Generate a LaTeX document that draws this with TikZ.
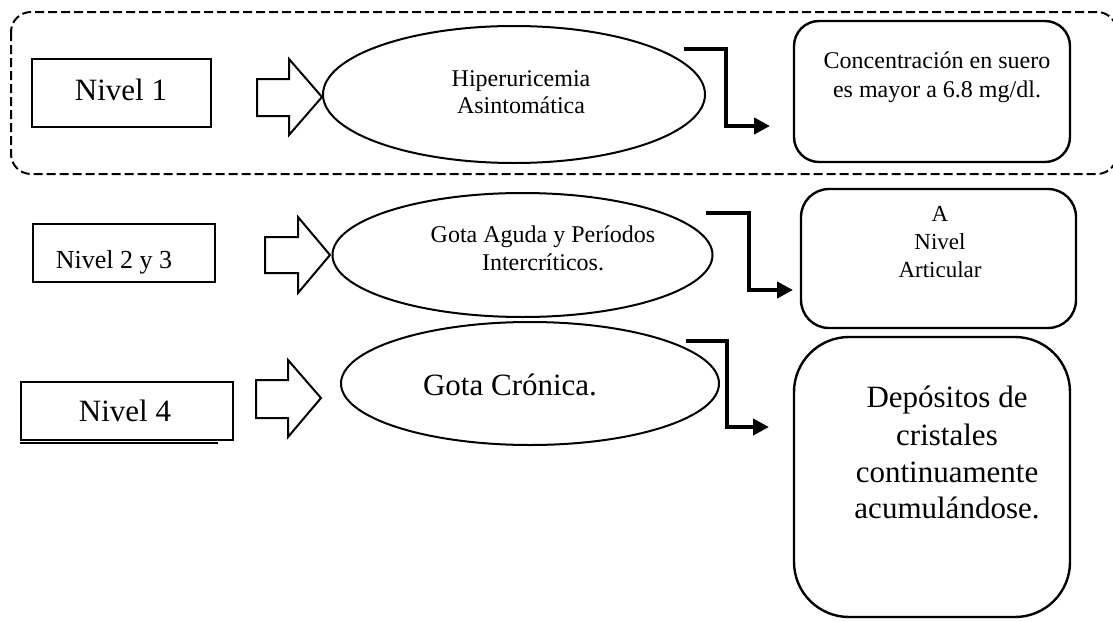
\documentclass[tikz,border=0pt]{standalone}
\usepackage{fontspec}
\setmainfont{Liberation Serif}
\usetikzlibrary{arrows.meta,shapes.geometric}
\begin{document}
\begin{tikzpicture}[x=1pt,y=-1pt,
  lbl/.style={inner sep=0pt, anchor=base},
  big/.style={font=\fontsize{31pt}{36pt}\selectfont},
  mid/.style={font=\fontsize{26pt}{30pt}\selectfont},
  sml/.style={font=\fontsize{24pt}{28pt}\selectfont},
  sml2/.style={font=\fontsize{23pt}{27pt}\selectfont},
  lvlbox/.style={draw, line width=2pt, inner sep=0pt},
  oval/.style={draw, ellipse, line width=2pt, inner sep=0pt},
  rbox/.style={draw, line width=2.4pt, inner sep=0pt},
  blockarrow/.style={draw, line width=2pt, line join=miter},
  elbow/.style={draw, line width=4pt, line join=miter, -{Triangle[length=16pt,width=16pt]}},
  frame/.style={draw, line width=2pt, dash pattern=on 9pt off 4pt, rounded corners=20pt}
]
\useasboundingbox (0,0) rectangle (1113,621);

% dashed frame around level 1 (right edge runs past the picture border)
\draw[frame] (11,12) rectangle (1117,174);

% level boxes
\node[lvlbox, minimum width=179pt, minimum height=68pt] (n1) at (121.5,93) {};
\node[lvlbox, minimum width=182pt, minimum height=58pt] (n2) at (124,253) {};
\node[lvlbox, minimum width=212pt, minimum height=58pt] (n4) at (127,411) {};
\draw[line width=2pt] ([yshift=-1.6pt]n4.south west) -- ++(198,0);

\node[lbl, big] (t1) at (121,100) {Nivel 1};
\node[lbl, mid] (t2) at (114,268) {Nivel 2 y 3};
\node[lbl, big] (t4) at (125,421) {Nivel 4};

% block arrows
\draw[blockarrow] (257,79) -- (289,79) -- (289,59) -- (322,97) -- (289,135) -- (289,116) -- (257,116) -- cycle;
\draw[blockarrow] (265,237) -- (298,237) -- (298,217) -- (330,255) -- (298,293) -- (298,273) -- (265,273) -- cycle;
\draw[blockarrow] (256,380) -- (288,380) -- (288,360) -- (321,398) -- (288,437) -- (288,418) -- (256,418) -- cycle;

% ellipses
\node[oval, minimum width=382pt, minimum height=137pt] (e1) at (514,94.5) {};
\node[oval, minimum width=380pt, minimum height=124pt] (e2) at (522.5,255) {};
\node[oval, minimum width=378pt, minimum height=123pt] (e3) at (530,383.5) {};

\node[lbl, sml] (h1) at (521,86) {Hiperuricemia};
\node[lbl, sml] (h2) at (521,113) {Asintomática};
\node[lbl, sml] (g1) at (543,242) {Gota Aguda y Períodos};
\node[lbl, sml] (g2) at (543,270) {Intercríticos.};
\node[lbl, big] (c1) at (510,395) {Gota Crónica.};

% rounded result boxes
\node[rbox, rounded corners=25pt, minimum width=276pt, minimum height=141pt] (r1) at (932,91.5) {};
\node[rbox, rounded corners=28pt, minimum width=275pt, minimum height=139pt] (r2) at (938.5,258.5) {};
\node[rbox, rounded corners=55pt, minimum width=276pt, minimum height=280pt] (r3) at (932,477) {};

\node[lbl, sml] (k1) at (937,68) {Concentración en suero};
\node[lbl, sml] (k2) at (937,97) {es mayor a 6.8 mg/dl.};
\node[lbl, sml2] (a1) at (940,221) {A};
\node[lbl, sml2] (a2) at (940,249) {Nivel};
\node[lbl, sml2] (a3) at (940,277) {Articular};
\node[lbl, big] (d1) at (947,407) {Depósitos de};
\node[lbl, big] (d2) at (947,445) {cristales};
\node[lbl, big] (d3) at (947,482) {continuamente};
\node[lbl, big] (d4) at (947,518) {acumulándose.};

% elbow connectors
\coordinate (s1) at (684,49);  \coordinate (m1) at (726,88);  \coordinate (f1) at (770,126);
\coordinate (s2) at (706,213); \coordinate (m2) at (749,251); \coordinate (f2) at (793,290);
\coordinate (s3) at (686,341); \coordinate (m3) at (727,384); \coordinate (f3) at (769,427);
\draw[elbow] (s1) -| (m1) |- (f1);
\draw[elbow] (s2) -| (m2) |- (f2);
\draw[elbow] (s3) -| (m3) |- (f3);
\end{tikzpicture}
\end{document}
